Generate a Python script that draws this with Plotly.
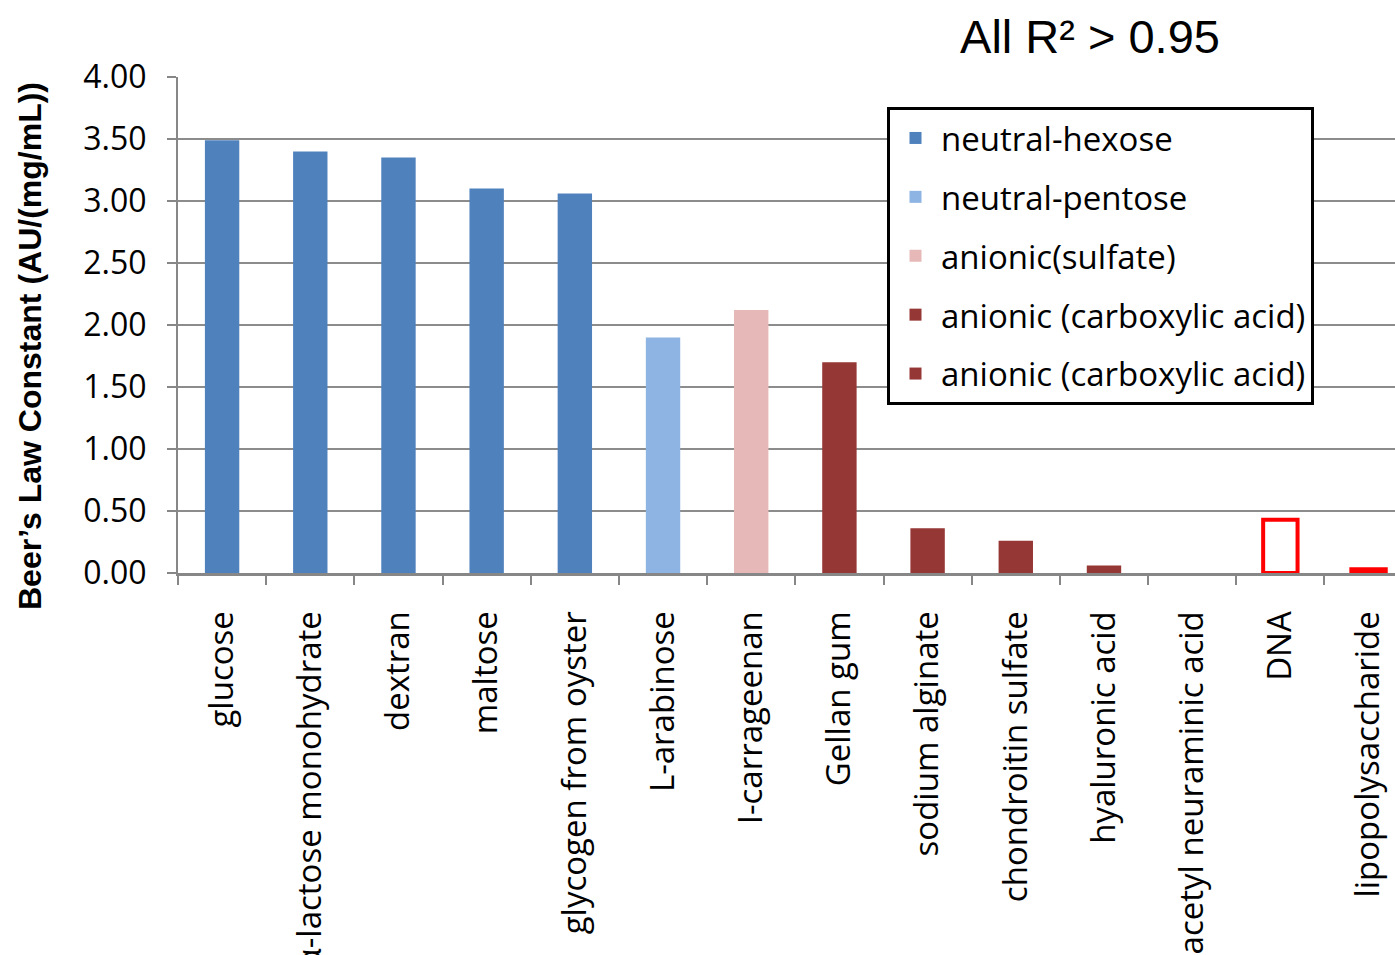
import plotly.graph_objects as go

# Categories in display order
categories = [
    "glucose", "α-lactose monohydrate", "dextran", "maltose",
    "glycogen from oyster", "L-arabinose", "I-carrageenan", "Gellan gum",
    "sodium alginate", "chondroitin sulfate", "hyaluronic acid",
    "N-acetyl neuraminic acid", "DNA", "lipopolysaccharide",
]

# Beer's law constants, grouped by polysaccharide class
hexose_names = ["glucose", "α-lactose monohydrate", "dextran", "maltose", "glycogen from oyster"]
hexose_vals = [3.49, 3.40, 3.35, 3.10, 3.06]

pentose_names = ["L-arabinose"]
pentose_vals = [1.90]

sulfate_names = ["I-carrageenan"]
sulfate_vals = [2.12]

carboxyl_a_names = ["Gellan gum"]
carboxyl_a_vals = [1.70]

carboxyl_b_names = ["sodium alginate", "chondroitin sulfate", "hyaluronic acid", "N-acetyl neuraminic acid"]
carboxyl_b_vals = [0.36, 0.26, 0.06, 0.0]

other_names = ["DNA", "lipopolysaccharide"]
other_vals = [0.43, 0.03]

y_ticks = [0, 0.5, 1.0, 1.5, 2.0, 2.5, 3.0, 3.5, 4.0]

BAR_W = 0.39
LABEL_FONT = "Open Sans, Noto Sans, sans-serif"
ARIAL = "Liberation Sans, Arial, sans-serif"

fig = go.Figure()


def add_bar(names, vals, color, label, group):
    fig.add_trace(go.Bar(
        x=names, y=vals, name=label, legendgroup=group,
        width=BAR_W, marker=dict(color=color, line=dict(width=0)),
    ))


add_bar(hexose_names, hexose_vals, "#4F81BD", "neutral-hexose", "g1")
add_bar(pentose_names, pentose_vals, "#8EB4E3", "neutral-pentose", "g2")
add_bar(sulfate_names, sulfate_vals, "#E6B9B8", "anionic(sulfate)", "g3")
add_bar(carboxyl_a_names, carboxyl_a_vals, "#953735", "anionic (carboxylic acid)", "g4")
add_bar(carboxyl_b_names, carboxyl_b_vals, "#953735", "anionic (carboxylic acid)", "g5")

# Outlined bars (no legend entry)
fig.add_trace(go.Bar(
    x=other_names, y=other_vals, showlegend=False, width=BAR_W,
    marker=dict(color="rgba(255,255,255,0)", line=dict(color="#FF0000", width=4)),
))

# Y-axis title, placed a little below the plot's vertical centre
fig.add_annotation(
    text="<b>Beer’s Law Constant (AU/(mg/mL))</b>",
    xref="paper", yref="paper", x=(30 - 178) / 1217, y=(573 - 346) / 496,
    xanchor="center", yanchor="middle", textangle=-90, showarrow=False,
    font=dict(family=ARIAL, size=32, color="black"),
)

fig.update_layout(
    width=1395, height=955,
    margin=dict(l=178, r=0, t=77, b=382),
    paper_bgcolor="white", plot_bgcolor="white",
    barmode="overlay",
    title=dict(
        text="All R² > 0.95",
        font=dict(family=ARIAL, size=47, color="black"),
        x=1090 / 1395, xanchor="center", xref="container",
        y=1 - 37 / 955, yanchor="middle",
    ),
    legend=dict(
        x=(887 - 178) / 1217, y=(573 - 107) / 496, xanchor="left", yanchor="top",
        bgcolor="white", bordercolor="black", borderwidth=3,
        font=dict(family=LABEL_FONT, size=33, color="black"),
        tracegroupgap=13, itemwidth=41,
    ),
    xaxis=dict(
        type="category", categoryorder="array", categoryarray=categories,
        range=[-0.5, 13.30], automargin=False,
        showline=True, linecolor="#878787", linewidth=3,
        ticks="outside", tickson="boundaries", ticklen=9, tickwidth=2, tickcolor="#878787",
        tickangle=-90, ticklabelstandoff=22,
        tickfont=dict(family=LABEL_FONT, size=33, color="black"),
        showgrid=False, zeroline=False,
    ),
    yaxis=dict(
        range=[0, 4.0], tickvals=y_ticks, tickformat=".2f", automargin=False,
        showline=True, linecolor="#878787", linewidth=2,
        ticks="outside", ticklen=9, tickwidth=2, tickcolor="#878787",
        ticklabelstandoff=14,
        tickfont=dict(family=LABEL_FONT, size=32, color="black"),
        showgrid=True, gridcolor="#8C8C8C", gridwidth=2,
        zeroline=False,
    ),
)

fig.write_html("out.html")
